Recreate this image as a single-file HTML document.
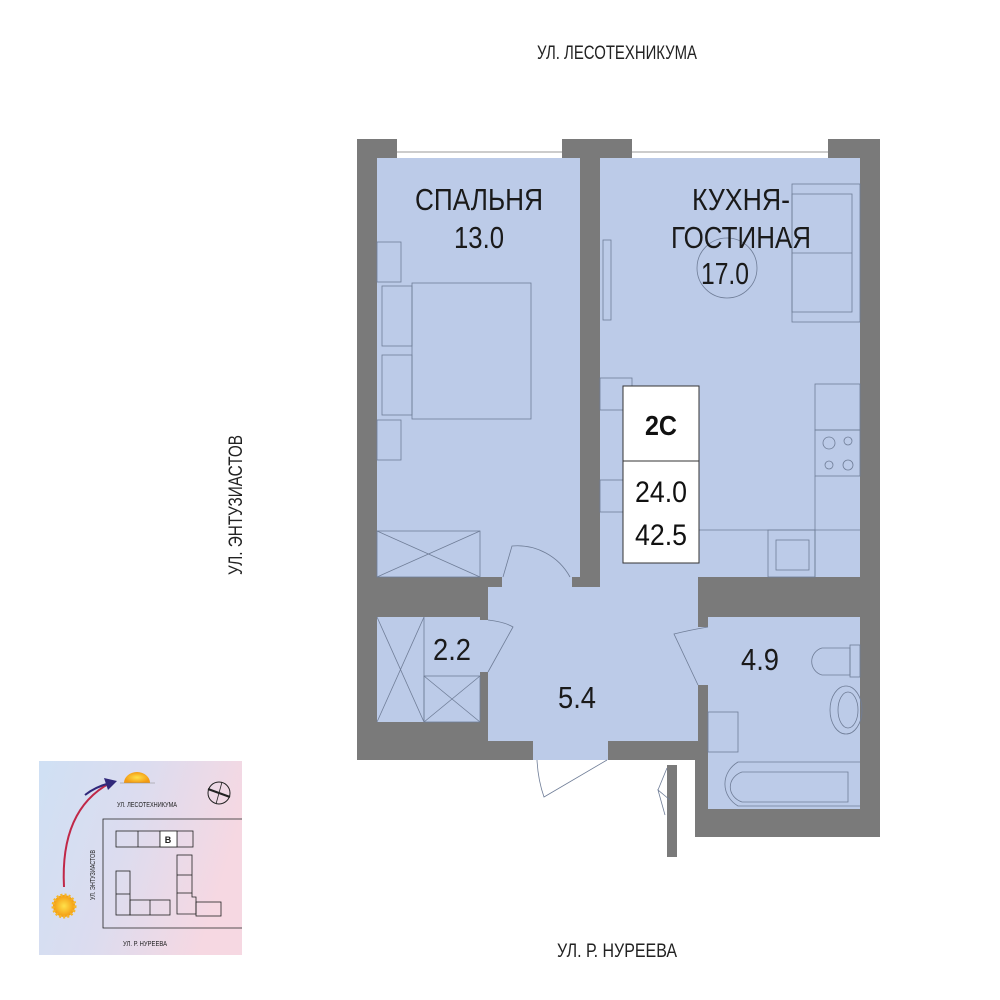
<!DOCTYPE html>
<html><head><meta charset="utf-8"><style>
html,body{margin:0;padding:0;background:#fff;}
svg{display:block;}
text{font-family:"Liberation Sans",sans-serif;}
</style></head><body>
<svg width="1000" height="1000" viewBox="0 0 1000 1000" xmlns="http://www.w3.org/2000/svg">
<defs>
<linearGradient id="g" x1="0" y1="0" x2="1" y2="0.3">
<stop offset="0" stop-color="#cfe0f4"/><stop offset="0.5" stop-color="#dcdcef"/><stop offset="1" stop-color="#f6d8e2"/>
</linearGradient>
<radialGradient id="sun"><stop offset="0" stop-color="#ffe14a"/><stop offset="1" stop-color="#f39a12"/></radialGradient>
</defs>
<!-- street labels -->
<text x="617" y="59" font-size="19" text-anchor="middle" textLength="160" lengthAdjust="spacingAndGlyphs" fill="#222">УЛ. ЛЕСОТЕХНИКУМА</text>
<text x="617" y="957" font-size="19" text-anchor="middle" textLength="120" lengthAdjust="spacingAndGlyphs" fill="#222">УЛ. Р. НУРЕЕВА</text>
<text transform="translate(242,505) rotate(-90)" font-size="19" text-anchor="middle" textLength="140" lengthAdjust="spacingAndGlyphs" fill="#222">УЛ. ЭНТУЗИАСТОВ</text>

<!-- walls -->
<g fill="#7a7a7a">
<rect x="357" y="139" width="523" height="621"/>
<rect x="695" y="577" width="185" height="260"/>
<rect x="667" y="765" width="10" height="92"/>
</g>
<!-- windows -->
<rect x="397" y="139" width="165" height="19" fill="#fff"/>
<line x1="397" y1="152" x2="562" y2="152" stroke="#999" stroke-width="1"/>
<rect x="632" y="139" width="196" height="19" fill="#fff"/>
<line x1="632" y1="152" x2="828" y2="152" stroke="#999" stroke-width="1"/>

<!-- rooms -->
<g fill="#bccbe8">
<rect x="377" y="158" width="203" height="419"/>
<rect x="600" y="158" width="260" height="419"/>
<rect x="600" y="570" width="98" height="20"/>
<rect x="502" y="577" width="70" height="10"/>
<rect x="488" y="587" width="210" height="154"/>
<rect x="533" y="741" width="75" height="19"/>
<rect x="377" y="617" width="103" height="105"/>
<rect x="480" y="620" width="8" height="52"/>
<rect x="708" y="617" width="152" height="192"/>
<rect x="695" y="627" width="13" height="58"/>
</g>
<!-- door gap below hall -->
<rect x="533" y="741" width="75" height="19" fill="#bccbe8"/>

<g fill="none" stroke="#6f7d97" stroke-width="0.8">
<!-- bedroom furniture -->
<rect x="377" y="242" width="24" height="40"/>
<rect x="377" y="420" width="24" height="40"/>
<rect x="382" y="286" width="30" height="60"/>
<rect x="382" y="355" width="30" height="60"/>
<rect x="412" y="283" width="119" height="136"/>
<rect x="377" y="531" width="103" height="46"/>
<line x1="377" y1="531" x2="480" y2="577"/><line x1="480" y1="531" x2="377" y2="577"/>
<path d="M503 577 L512 546 A60 60 0 0 1 570 577"/>
<!-- kitchen -->
<circle cx="727" cy="268" r="30"/>
<rect x="792" y="184" width="68" height="138"/>
<rect x="792" y="194" width="60" height="118"/>
<line x1="792" y1="253" x2="852" y2="253"/>
<rect x="603" y="240" width="8" height="80"/>
<rect x="600" y="378" width="32" height="32"/>
<rect x="600" y="480" width="32" height="32"/>
<rect x="815" y="384" width="45" height="46"/>
<rect x="815" y="430" width="45" height="46"/>
<circle cx="829" cy="443" r="6"/><circle cx="848" cy="441" r="4"/>
<circle cx="829" cy="465" r="4"/><circle cx="848" cy="465" r="5"/>
<line x1="815" y1="476" x2="815" y2="577"/>
<line x1="699" y1="530" x2="860" y2="530"/>
<rect x="768" y="530" width="47" height="47"/>
<rect x="776" y="540" width="33" height="30"/>
<!-- storage -->
<line x1="424" y1="617" x2="424" y2="722"/>
<rect x="424" y="676" width="56" height="46"/>
<line x1="424" y1="676" x2="480" y2="722"/><line x1="480" y1="676" x2="424" y2="722"/>
<line x1="377" y1="617" x2="424" y2="722"/><line x1="424" y1="617" x2="377" y2="722"/>
<path d="M488 620 Q505 622 513 627 L488 672"/>
<!-- bathroom -->
<path d="M708 627 Q690 630 674 634 L698 685"/>
<path d="M850 648 L822 648 A14 14 0 0 0 822 675 L850 675 Z"/>
<rect x="850" y="645" width="10" height="32"/>
<ellipse cx="846" cy="710" rx="16" ry="24"/>
<ellipse cx="848" cy="710" rx="10" ry="18"/>
<rect x="708" y="712" width="30" height="40"/>
<path d="M860 762 L738 762 A28 26 0 0 0 738 806 L860 806"/>
<path d="M848 772 L742 772 A18 16 0 0 0 742 802 L848 802 Z"/>
<!-- entrance door -->
<path d="M537 760 Q538 780 544 797 L607 760"/>
<path d="M667 768 L658 790 L670 800 L658 790 L665 815"/>
</g>
<!-- labels -->
<g fill="#1a1a1a" text-anchor="middle" font-size="31">
<text x="479" y="210" textLength="128" lengthAdjust="spacingAndGlyphs">СПАЛЬНЯ</text>
<text x="479" y="248" textLength="50" lengthAdjust="spacingAndGlyphs">13.0</text>
<text x="741" y="210" textLength="98" lengthAdjust="spacingAndGlyphs">КУХНЯ-</text>
<text x="741" y="248" textLength="140" lengthAdjust="spacingAndGlyphs">ГОСТИНАЯ</text>
<text x="725" y="284" textLength="48" lengthAdjust="spacingAndGlyphs">17.0</text>
<text x="452" y="660" textLength="38" lengthAdjust="spacingAndGlyphs">2.2</text>
<text x="577" y="708" textLength="38" lengthAdjust="spacingAndGlyphs">5.4</text>
<text x="760" y="670" textLength="38" lengthAdjust="spacingAndGlyphs">4.9</text>
</g>
<!-- info box -->
<rect x="623" y="386" width="76" height="177" fill="#fff" stroke="#333" stroke-width="1"/>
<line x1="623" y1="461" x2="699" y2="461" stroke="#333"/>
<text x="661" y="435" font-size="28" font-weight="bold" text-anchor="middle" textLength="32" lengthAdjust="spacingAndGlyphs" fill="#111">2С</text>
<text x="661" y="502" font-size="30" text-anchor="middle" textLength="52" lengthAdjust="spacingAndGlyphs" fill="#111">24.0</text>
<text x="661" y="545" font-size="30" text-anchor="middle" textLength="52" lengthAdjust="spacingAndGlyphs" fill="#111">42.5</text>

<!-- orientation panel -->
<rect x="39" y="761" width="203" height="194" fill="url(#g)"/>
<path d="M64 887 Q60 810 110 783" fill="none" stroke="#c02848" stroke-width="2"/>
<path d="M85 795 Q95 787 110 783" fill="none" stroke="#30287a" stroke-width="2"/>
<polygon points="117,781 104,778 108,790" fill="#30287a"/>
<circle cx="64" cy="906" r="11" fill="url(#sun)" stroke="#f5b62a" stroke-width="3" stroke-dasharray="2 2"/>
<path d="M124 783 A13 11 0 0 1 150 783 Z" fill="url(#sun)"/>
<line x1="120" y1="783" x2="155" y2="783" stroke="#888" stroke-width="0.6"/>
<circle cx="219" cy="793" r="11" fill="none" stroke="#222" stroke-width="1"/>
<line x1="208" y1="789" x2="230" y2="797" stroke="#222" stroke-width="2"/>
<line x1="222" y1="782" x2="216" y2="804" stroke="#222" stroke-width="0.8"/>
<text x="147" y="807" font-size="7" text-anchor="middle" textLength="60" lengthAdjust="spacingAndGlyphs" fill="#222">УЛ. ЛЕСОТЕХНИКУМА</text>
<text x="145" y="946" font-size="7" text-anchor="middle" textLength="44" lengthAdjust="spacingAndGlyphs" fill="#222">УЛ. Р. НУРЕЕВА</text>
<text transform="translate(95,875) rotate(-90)" font-size="7" text-anchor="middle" textLength="50" lengthAdjust="spacingAndGlyphs" fill="#222">УЛ. ЭНТУЗИАСТОВ</text>
<g fill="none" stroke="#222" stroke-width="0.8">
<path d="M242 819 L103 819 L103 928 L242 928"/>
<rect x="116" y="831" width="77" height="16"/>
<line x1="138" y1="831" x2="138" y2="847"/><line x1="160" y1="831" x2="160" y2="847"/><line x1="177" y1="831" x2="177" y2="847"/>
<rect x="116" y="871" width="14" height="44"/><line x1="116" y1="894" x2="130" y2="894"/>
<rect x="130" y="900" width="40" height="15"/><line x1="150" y1="900" x2="150" y2="915"/>
<rect x="177" y="855" width="15" height="38"/><line x1="177" y1="875" x2="192" y2="875"/>
<path d="M177 893 L177 914 L196 914 L196 897 L192 897 L192 893"/>
<rect x="196" y="902" width="25" height="14"/>
</g>
<rect x="160" y="831" width="17" height="16" fill="#fff" stroke="#222" stroke-width="0.8"/>
<text x="168" y="843" font-size="9" font-weight="bold" text-anchor="middle" fill="#222">В</text>
</svg>
</body></html>
